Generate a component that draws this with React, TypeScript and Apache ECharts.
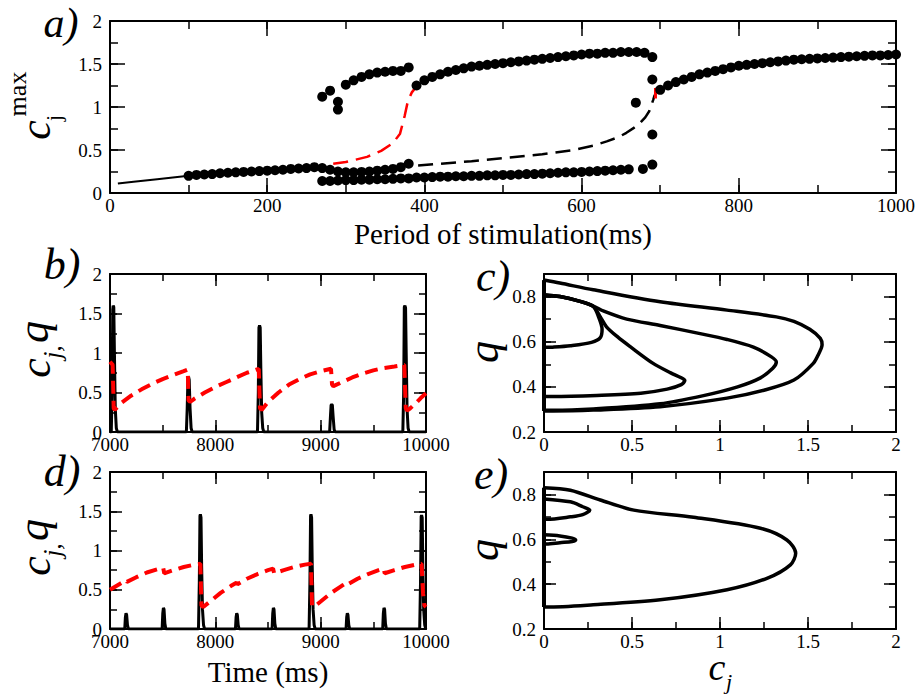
import React, { useEffect, useRef } from 'react';
import * as echarts from 'echarts';

const FONT = '"Liberation Serif", "Times New Roman", "DejaVu Serif", serif';

// ---------- Panel a: bifurcation diagram ----------
const aSolid = [[10, 0.11], [30, 0.13], [60, 0.16], [100, 0.2], [180, 0.25], [260, 0.3]];
const aRedDash = [[284, 0.34], [300, 0.36], [327, 0.42], [345, 0.49], [360, 0.58], [369, 0.69], [375, 0.9], [379, 1.07], [384, 1.17], [390, 1.24]];
const aBlackDash = [[392, 0.32], [420, 0.34], [460, 0.37], [505, 0.41], [550, 0.45], [590, 0.5], [615, 0.55], [632, 0.6], [647, 0.65], [657, 0.7], [667, 0.76], [674, 0.81], [681, 0.88], [686, 0.95], [691, 1.08], [693, 1.14]];
const aRedBit = [[694, 1.1], [694, 1.22]];
const dotsP1 = [[100, 0.2], [110, 0.21], [120, 0.215], [130, 0.22], [140, 0.23], [150, 0.235], [160, 0.24], [170, 0.245], [180, 0.25], [190, 0.255], [200, 0.26], [210, 0.265], [220, 0.27], [230, 0.28], [240, 0.285], [250, 0.29], [260, 0.3]];
const dotsLow = [[270, 0.14], [280, 0.14], [290, 0.145], [300, 0.15], [310, 0.15], [320, 0.155], [330, 0.155], [340, 0.16], [350, 0.16], [360, 0.165], [370, 0.17], [380, 0.17], [390, 0.18], [400, 0.18], [410, 0.185], [420, 0.19], [430, 0.19], [440, 0.195], [450, 0.195], [460, 0.2], [470, 0.2], [480, 0.205], [490, 0.205], [500, 0.21], [510, 0.21], [520, 0.215], [530, 0.22], [540, 0.22], [550, 0.225], [560, 0.23], [570, 0.235], [580, 0.24], [590, 0.24], [600, 0.245], [610, 0.25], [620, 0.255], [630, 0.26], [640, 0.265], [650, 0.27], [660, 0.275]];
const dotsMid = [[270, 0.29], [280, 0.27], [290, 0.25], [300, 0.24], [310, 0.24], [320, 0.245], [330, 0.25], [340, 0.26], [350, 0.27], [360, 0.28], [370, 0.3], [380, 0.34]];
const dotsTopA = [[270, 1.12], [280, 1.19], [290, 1.06], [290, 0.97], [300, 1.26], [310, 1.31], [320, 1.35], [330, 1.38], [340, 1.4], [350, 1.41], [360, 1.42], [370, 1.42], [380, 1.46]];
const dotsTopB = [[390, 1.25], [400, 1.31], [410, 1.35], [420, 1.38], [430, 1.41], [440, 1.43], [450, 1.45], [460, 1.47], [470, 1.48], [480, 1.49], [490, 1.5], [500, 1.51], [510, 1.52], [520, 1.53], [530, 1.54], [540, 1.55], [550, 1.56], [560, 1.57], [570, 1.58], [580, 1.59], [590, 1.6], [600, 1.61], [610, 1.62], [620, 1.62], [630, 1.63], [640, 1.63], [650, 1.64], [660, 1.64], [670, 1.64], [680, 1.63]];
const dotsExtra = [[669, 1.05], [678, 0.28], [690, 0.33], [690, 0.68], [690, 1.32], [690, 1.58]];
const dotsRight = [[700, 1.2], [710, 1.25], [720, 1.29], [730, 1.32], [740, 1.35], [750, 1.38], [760, 1.4], [770, 1.42], [780, 1.44], [790, 1.46], [800, 1.48], [810, 1.49], [820, 1.5], [830, 1.51], [840, 1.52], [850, 1.53], [860, 1.54], [870, 1.55], [880, 1.555], [890, 1.56], [900, 1.565], [910, 1.57], [920, 1.575], [930, 1.58], [940, 1.585], [950, 1.59], [960, 1.595], [970, 1.6], [980, 1.6], [990, 1.605], [1000, 1.61]];

// ---------- Panel b: time series ----------
const bC = [[7000, 0], [7012, 0], [7020, 0.5], [7026, 1.55], [7030, 1.6], [7036, 1.58], [7042, 1.0], [7050, 0.3], [7060, 0.05], [7070, 0],
  [7725, 0], [7733, 0.3], [7740, 0.68], [7746, 0.7], [7752, 0.66], [7760, 0.3], [7770, 0.05], [7780, 0],
  [8400, 0], [8408, 0.5], [8414, 1.32], [8420, 1.35], [8426, 1.32], [8432, 0.8], [8440, 0.25], [8450, 0.05], [8460, 0],
  [9085, 0], [9093, 0.2], [9099, 0.34], [9105, 0.35], [9111, 0.34], [9118, 0.2], [9128, 0.03], [9138, 0],
  [9780, 0], [9788, 0.5], [9794, 1.58], [9800, 1.6], [9806, 1.57], [9812, 1.0], [9820, 0.3], [9830, 0.05], [9840, 0], [10000, 0]];
const bQ = [[7000, 0.89], [7025, 0.85], [7035, 0.3], [7045, 0.28], [7100, 0.36], [7200, 0.46], [7300, 0.54], [7400, 0.61], [7500, 0.67], [7600, 0.72], [7700, 0.77], [7738, 0.79], [7746, 0.4], [7760, 0.38],
  [7800, 0.42], [7900, 0.5], [8000, 0.57], [8100, 0.63], [8200, 0.69], [8300, 0.75], [8412, 0.8], [8424, 0.3], [8440, 0.28],
  [8500, 0.38], [8600, 0.5], [8700, 0.6], [8800, 0.67], [8900, 0.73], [9000, 0.77], [9098, 0.8], [9108, 0.6], [9120, 0.58],
  [9200, 0.63], [9300, 0.69], [9400, 0.74], [9500, 0.78], [9600, 0.81], [9700, 0.83], [9794, 0.85], [9808, 0.3], [9820, 0.27],
  [9850, 0.3], [9900, 0.36], [9950, 0.43], [10000, 0.49]];

// ---------- Panel d: time series ----------
const dC = [[7000, 0], [7140, 0], [7146, 0.15], [7152, 0.2], [7158, 0.18], [7166, 0.05], [7175, 0],
  [7495, 0], [7501, 0.2], [7507, 0.27], [7513, 0.25], [7521, 0.07], [7530, 0],
  [7840, 0], [7848, 0.6], [7854, 1.44], [7858, 1.46], [7864, 1.42], [7870, 0.8], [7878, 0.25], [7888, 0.05], [7898, 0],
  [8191, 0], [8197, 0.15], [8203, 0.2], [8209, 0.18], [8217, 0.05], [8226, 0],
  [8539, 0], [8545, 0.2], [8551, 0.27], [8557, 0.25], [8565, 0.07], [8574, 0],
  [8890, 0], [8898, 0.6], [8904, 1.44], [8908, 1.46], [8914, 1.42], [8920, 0.8], [8928, 0.25], [8938, 0.05], [8948, 0],
  [9241, 0], [9247, 0.15], [9253, 0.2], [9259, 0.18], [9267, 0.05], [9276, 0],
  [9589, 0], [9595, 0.2], [9601, 0.27], [9607, 0.25], [9615, 0.07], [9624, 0],
  [9940, 0], [9948, 0.6], [9954, 1.43], [9958, 1.45], [9964, 1.42], [9970, 0.8], [9978, 0.25], [9988, 0.05], [9998, 0], [10000, 0]];
const dQ = [[7000, 0.5], [7100, 0.58], [7150, 0.62], [7160, 0.6], [7250, 0.66], [7350, 0.72], [7450, 0.76], [7505, 0.78], [7515, 0.71], [7600, 0.75], [7700, 0.79], [7800, 0.82], [7858, 0.83], [7868, 0.3], [7885, 0.28],
  [7950, 0.35], [8050, 0.46], [8150, 0.55], [8200, 0.59], [8210, 0.57], [8300, 0.64], [8400, 0.7], [8500, 0.75], [8548, 0.77], [8558, 0.71], [8650, 0.75], [8750, 0.79], [8850, 0.82], [8908, 0.83], [8918, 0.3], [8935, 0.28],
  [9000, 0.35], [9100, 0.46], [9200, 0.55], [9250, 0.59], [9260, 0.57], [9350, 0.64], [9450, 0.7], [9550, 0.75], [9598, 0.77], [9608, 0.71], [9700, 0.75], [9800, 0.79], [9900, 0.82], [9958, 0.83], [9972, 0.45], [9985, 0.3], [10000, 0.28]];

// ---------- Panel c: phase portrait ----------
const cAxisLine = [[0, 0.293], [0, 0.873]];
const cLoopA = [[0, 0.873], [0.09, 0.86], [0.28, 0.83], [0.66, 0.777], [1.04, 0.74], [1.32, 0.71], [1.42, 0.69], [1.51, 0.655], [1.57, 0.615], [1.58, 0.586], [1.56, 0.545], [1.53, 0.504], [1.42, 0.43], [1.25, 0.385], [1.04, 0.35], [0.66, 0.312], [0.28, 0.297], [0.05, 0.293], [0, 0.293]];
const cLoopB = [[0, 0.807], [0.09, 0.8], [0.2, 0.78], [0.28, 0.758], [0.34, 0.735], [0.47, 0.7], [0.66, 0.672], [0.88, 0.637], [1.04, 0.61], [1.19, 0.576], [1.29, 0.534], [1.32, 0.51], [1.3, 0.482], [1.23, 0.44], [1.1, 0.4], [0.9, 0.36], [0.66, 0.325], [0.28, 0.302], [0.05, 0.296], [0, 0.296]];
const cLoopC = [[0, 0.807], [0.09, 0.8], [0.2, 0.78], [0.28, 0.757], [0.32, 0.71], [0.355, 0.666], [0.42, 0.62], [0.49, 0.578], [0.62, 0.504], [0.72, 0.462], [0.78, 0.44], [0.8, 0.428], [0.78, 0.41], [0.7, 0.39], [0.55, 0.372], [0.3, 0.362], [0.05, 0.357], [0, 0.357]];
const cLoopD = [[0, 0.807], [0.09, 0.8], [0.2, 0.78], [0.28, 0.757], [0.31, 0.71], [0.33, 0.655], [0.32, 0.618], [0.27, 0.597], [0.15, 0.582], [0.05, 0.576], [0, 0.575]];

// ---------- Panel e: phase portrait ----------
const eAxisLine = [[0, 0.298], [0, 0.83]];
const eLoopA = [[0, 0.83], [0.15, 0.819], [0.32, 0.775], [0.51, 0.73], [0.85, 0.698], [1.23, 0.649], [1.38, 0.597], [1.43, 0.538], [1.4, 0.486], [1.27, 0.427], [1.04, 0.375], [0.66, 0.33], [0.28, 0.308], [0.015, 0.298], [0, 0.298]];
const eLoopB = [[0, 0.78], [0.15, 0.767], [0.22, 0.745], [0.26, 0.73], [0.22, 0.71], [0.15, 0.7], [0.015, 0.689], [0, 0.689]];
const eLoopC = [[0, 0.62], [0.09, 0.615], [0.16, 0.605], [0.18, 0.597], [0.16, 0.59], [0.09, 0.585], [0.015, 0.579], [0, 0.579]];

// ---------- layout ----------
const GRIDS = [
  { left: 110, top: 21, width: 786, height: 172 },
  { left: 110, top: 274, width: 316, height: 158 },
  { left: 544, top: 274, width: 352, height: 158 },
  { left: 110, top: 472, width: 316, height: 157 },
  { left: 544, top: 472, width: 352, height: 157 },
];
// [min, max, major, minor]
const X_SPECS = [[0, 1000, 200, 100], [7000, 10000, 1000, 500], [0, 2, 0.5, 0.25], [7000, 10000, 1000, 500], [0, 2, 0.5, 0.25]];
const Y_SPECS = [[0, 2, 0.5, 0.25], [0, 2, 0.5, 0.25], [0.2, 0.9, 0.2, 0.1], [0, 2, 0.5, 0.25], [0.2, 0.9, 0.2, 0.1]];
const TICK_LEN = [[15, 8], [12, 7], [12, 7], [12, 7], [12, 7]];

function fmt(max: number) {
  return (v: number) => (Math.abs(v - max) < 1e-9 && max === 0.9 ? '' : String(+v.toFixed(2)));
}

function buildAxes() {
  const xAxis: any[] = [];
  const yAxis: any[] = [];
  GRIDS.forEach((_, gi) => {
    const [xmin, xmax, xmaj, xmin2] = X_SPECS[gi];
    const [ymin, ymax, ymaj, ymin2] = Y_SPECS[gi];
    const [L, l] = TICK_LEN[gi];
    const mk = (pos: string, min: number, max: number, interval: number, len: number, labels: boolean, line: boolean, isX: boolean) => ({
      type: 'value', gridIndex: gi, position: pos, min, max, interval,
      axisLine: { show: line, onZero: false, lineStyle: { color: '#000', width: 2 } },
      axisTick: { show: true, inside: true, length: len, lineStyle: { color: '#000', width: 1.5 } },
      axisLabel: {
        show: labels, color: '#000', fontSize: 19, fontFamily: FONT, lineHeight: 12,
        margin: isX ? 6 : 8, formatter: fmt(max),
      },
      splitLine: { show: false },
    });
    xAxis.push(mk('bottom', xmin, xmax, xmaj, L, true, true, true));
    xAxis.push(mk('bottom', xmin, xmax, xmin2, l, false, false, true));
    xAxis.push(mk('top', xmin, xmax, xmaj, L, false, true, true));
    xAxis.push(mk('top', xmin, xmax, xmin2, l, false, false, true));
    yAxis.push(mk('left', ymin, ymax, ymaj, L, true, true, false));
    yAxis.push(mk('left', ymin, ymax, ymin2, l, false, false, false));
    yAxis.push(mk('right', ymin, ymax, ymaj, L, false, true, false));
    yAxis.push(mk('right', ymin, ymax, ymin2, l, false, false, false));
  });
  return { xAxis, yAxis };
}

function line(gi: number, data: number[][], color: string, width: number, type: any = 'solid', smooth: any = false, z = 2) {
  return {
    type: 'line', xAxisIndex: gi * 4, yAxisIndex: gi * 4, data, symbol: 'none', smooth, z,
    lineStyle: { color, width, type }, silent: true,
  };
}
function dots(data: number[][]) {
  return {
    type: 'scatter', xAxisIndex: 0, yAxisIndex: 0, data, symbol: 'circle', symbolSize: 10, clip: false, z: 5,
    itemStyle: { color: '#000', opacity: 1 }, silent: true,
  };
}

function txt(text: string, x: number, y: number, size: number, italic: boolean, rot = 0) {
  return {
    type: 'text', x, y, rotation: rot, z: 100,
    style: {
      text, fill: '#000', fontSize: size, fontFamily: FONT, fontStyle: italic ? 'italic' : 'normal',
      lineHeight: Math.round(size * 0.7),
      align: 'center', verticalAlign: 'middle', textAlign: 'center', textVerticalAlign: 'middle',
    },
  };
}

const R = Math.PI / 2;

export default function App() {
  const ref = useRef<HTMLDivElement>(null);
  useEffect(() => {
    if (!ref.current) return;
    const chart = echarts.init(ref.current, undefined, { renderer: 'svg' });
    const { xAxis, yAxis } = buildAxes();
    const RED = '#ff0000';
    const series: any[] = [
      line(0, aSolid, '#000', 2),
      line(0, aRedDash, RED, 2.5, [15, 8]),
      line(0, aBlackDash, '#000', 2.5, [15, 8]),
      line(0, aRedBit, RED, 3),
      dots(dotsP1), dots(dotsLow), dots(dotsMid), dots(dotsTopA), dots(dotsTopB), dots(dotsExtra), dots(dotsRight),
      line(1, bC, '#000', 3),
      line(1, bQ, RED, 4, [13, 7], false, 3),
      line(3, dC, '#000', 3),
      line(3, dQ, RED, 4, [13, 7], false, 3),
      line(2, cAxisLine, '#000', 4),
      line(2, cLoopA, '#000', 3.5, 'solid', 0.3),
      line(2, cLoopB, '#000', 3.5, 'solid', 0.3),
      line(2, cLoopC, '#000', 3.5, 'solid', 0.3),
      line(2, cLoopD, '#000', 3.5, 'solid', 0.3),
      line(4, eAxisLine, '#000', 4),
      line(4, eLoopA, '#000', 3.5, 'solid', 0.3),
      line(4, eLoopB, '#000', 3.5, 'solid', 0.3),
      line(4, eLoopC, '#000', 3.5, 'solid', 0.3),
    ];
    const graphic = [
      txt('a)', 61, 23, 42, true),
      txt('b)', 62, 264, 44, true),
      txt('c)', 493, 276, 44, true),
      txt('d)', 62, 471, 44, true),
      txt('e)', 491, 474, 44, true),
      // panel a y title
      txt('c', 35, 130, 44, true, R),
      txt('j', 53, 118, 22, false, R),
      txt('max', 17, 94, 26, false, R),
      // panel b y title
      txt('c', 35, 368, 44, true, R),
      txt('j,', 52, 352, 26, true, R),
      txt('q', 33, 332, 44, true, R),
      // panel d y title
      txt('c', 35, 566, 44, true, R),
      txt('j,', 52, 550, 26, true, R),
      txt('q', 33, 530, 44, true, R),
      // panel c, e y titles
      txt('q', 483, 352, 44, true, R),
      txt('q', 483, 550, 44, true, R),
      // x titles
      txt('Period of stimulation(ms)', 503, 234, 29, false),
      txt('Time (ms)', 268, 672, 29, false),
      txt('c', 717, 667, 38, true),
      txt('j', 729, 681, 22, true),
    ];
    chart.setOption({
      animation: false,
      backgroundColor: '#fff',
      grid: GRIDS,
      xAxis, yAxis, series, graphic,
    });
    return () => chart.dispose();
  }, []);
  return <div ref={ref} style={{ position: 'fixed', left: 0, top: 0, width: 920, height: 696 }} />;
}
